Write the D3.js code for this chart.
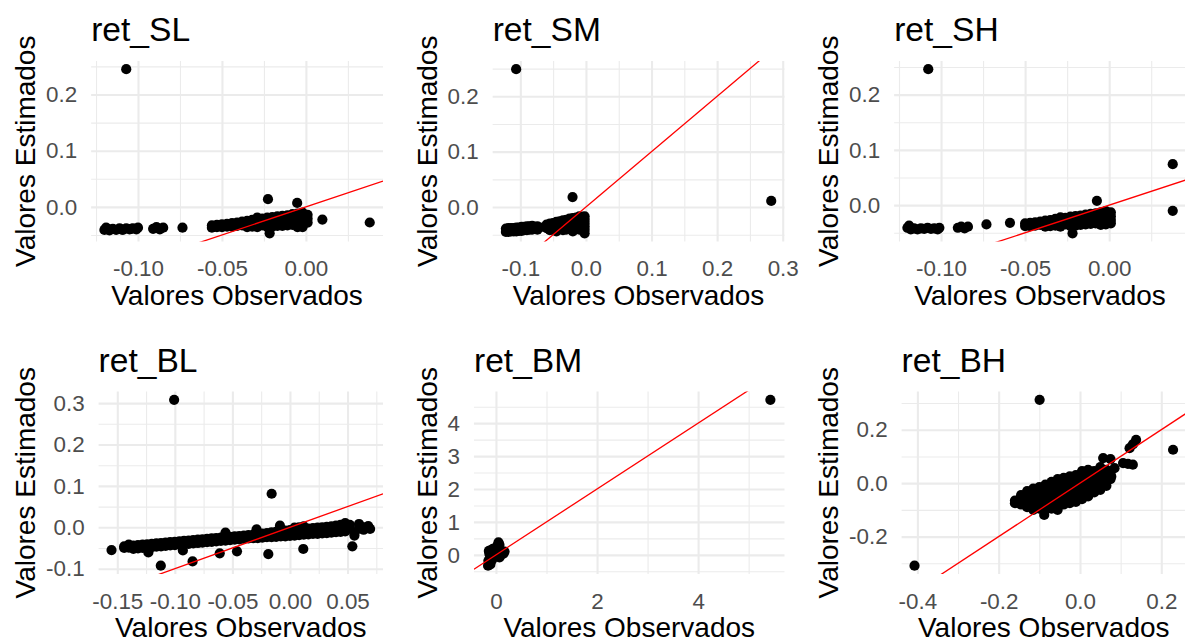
<!DOCTYPE html>
<html>
<head>
<meta charset="utf-8">
<script src="https://cdn.jsdelivr.net/npm/d3@7"></script>
<style>
  body { margin: 0; background: #ffffff; }
  svg { display: block; }
</style>
</head>
<body>
<svg id="chart" width="1185" height="643"></svg>
<script>
// ---- Panel titles ----
const titles = ["ret_SL", "ret_SM", "ret_SH", "ret_BL", "ret_BM", "ret_BH"];
const xTitle = "Valores Observados";
const yTitle = "Valores Estimados";

// ---- Observed vs. estimated returns, one array per portfolio ([observado, estimado]) ----
const pointsSL = [
  [-0.107, 0.245],
  [-0.120, -0.041], [-0.119, -0.037], [-0.118, -0.039], [-0.117, -0.042], [-0.115, -0.039], [-0.113, -0.041],
  [-0.111, -0.038], [-0.110, -0.040], [-0.109, -0.041], [-0.107, -0.038], [-0.105, -0.040], [-0.104, -0.039],
  [-0.103, -0.038], [-0.101, -0.040], [-0.100, -0.037],
  [-0.091, -0.039], [-0.089, -0.036], [-0.088, -0.038], [-0.087, -0.040], [-0.085, -0.037],
  [-0.0735, -0.037],
  [-0.056, -0.033], [-0.056, -0.037], [-0.053, -0.032], [-0.053, -0.036], [-0.050, -0.031], [-0.050, -0.036],
  [-0.047, -0.030], [-0.047, -0.035], [-0.044, -0.029], [-0.044, -0.035], [-0.041, -0.028], [-0.041, -0.034],
  [-0.038, -0.026], [-0.038, -0.033], [-0.035, -0.025], [-0.035, -0.031], [-0.035, -0.036],
  [-0.032, -0.023], [-0.032, -0.029], [-0.032, -0.035],
  [-0.029, -0.019], [-0.029, -0.025], [-0.029, -0.031], [-0.029, -0.036],
  [-0.026, -0.021], [-0.026, -0.027], [-0.026, -0.033],
  [-0.023, -0.019], [-0.023, -0.025], [-0.023, -0.031], [-0.023, -0.036],
  [-0.020, -0.018], [-0.020, -0.024], [-0.020, -0.030], [-0.020, -0.035],
  [-0.017, -0.017], [-0.017, -0.023], [-0.017, -0.029], [-0.017, -0.034],
  [-0.014, -0.016], [-0.014, -0.022], [-0.014, -0.028], [-0.014, -0.034],
  [-0.011, -0.015], [-0.011, -0.021], [-0.011, -0.027], [-0.011, -0.033],
  [-0.008, -0.013], [-0.008, -0.020], [-0.008, -0.026], [-0.008, -0.032],
  [-0.005, -0.012], [-0.005, -0.018], [-0.005, -0.025], [-0.005, -0.031], [-0.005, -0.036],
  [-0.002, -0.010], [-0.002, -0.016], [-0.002, -0.023], [-0.002, -0.030], [-0.002, -0.036],
  [0.001, -0.014], [0.001, -0.021], [0.001, -0.028],
  [-0.0226, 0.0137], [-0.0052, 0.0071], [-0.0216, -0.047], [0.0098, -0.0225], [0.038, -0.0278]
];

const pointsSM = [
  [-0.1064, 0.249], [0.2825, 0.011], [-0.0204, 0.018],
  [-0.122, -0.039], [-0.122, -0.045], [-0.118, -0.038], [-0.118, -0.045], [-0.114, -0.038], [-0.114, -0.044],
  [-0.110, -0.038], [-0.110, -0.044], [-0.106, -0.037], [-0.106, -0.044], [-0.102, -0.037], [-0.102, -0.043],
  [-0.098, -0.036], [-0.098, -0.043], [-0.094, -0.036], [-0.094, -0.042], [-0.090, -0.035], [-0.090, -0.042],
  [-0.086, -0.035], [-0.086, -0.041], [-0.082, -0.034], [-0.082, -0.041], [-0.078, -0.036], [-0.074, -0.035],
  [-0.074, -0.041], [-0.070, -0.037],
  [-0.060, -0.032], [-0.060, -0.038],
  [-0.055, -0.030], [-0.055, -0.036], [-0.055, -0.042],
  [-0.050, -0.029], [-0.050, -0.035], [-0.050, -0.041],
  [-0.045, -0.027], [-0.045, -0.033], [-0.045, -0.039], [-0.045, -0.044],
  [-0.040, -0.026], [-0.040, -0.032], [-0.040, -0.038],
  [-0.035, -0.024], [-0.035, -0.030], [-0.035, -0.036], [-0.035, -0.042],
  [-0.030, -0.023], [-0.030, -0.029], [-0.030, -0.035], [-0.030, -0.041],
  [-0.025, -0.021], [-0.025, -0.027], [-0.025, -0.033], [-0.025, -0.039],
  [-0.020, -0.020], [-0.020, -0.026], [-0.020, -0.032], [-0.020, -0.038], [-0.020, -0.044],
  [-0.015, -0.019], [-0.015, -0.025], [-0.015, -0.031], [-0.015, -0.037],
  [-0.010, -0.017], [-0.010, -0.023], [-0.010, -0.029], [-0.010, -0.035], [-0.010, -0.041],
  [-0.005, -0.018], [-0.005, -0.024], [-0.005, -0.030], [-0.005, -0.036], [-0.005, -0.042],
  [-0.002, -0.017], [-0.002, -0.023], [-0.002, -0.029], [-0.002, -0.035], [-0.002, -0.041], [-0.002, -0.0475]
];

const pointsSH = [
  [-0.1076, 0.246],
  [-0.120, -0.041], [-0.119, -0.037], [-0.118, -0.044], [-0.116, -0.042], [-0.114, -0.044], [-0.112, -0.042],
  [-0.110, -0.043], [-0.108, -0.041], [-0.106, -0.043], [-0.104, -0.042], [-0.102, -0.044], [-0.101, -0.041],
  [-0.090, -0.041], [-0.088, -0.039], [-0.086, -0.042], [-0.084, -0.039],
  [-0.073, -0.035], [-0.059, -0.032],
  [-0.050, -0.033], [-0.050, -0.038], [-0.047, -0.032], [-0.047, -0.038], [-0.044, -0.031], [-0.044, -0.037],
  [-0.041, -0.030], [-0.041, -0.036], [-0.038, -0.028], [-0.038, -0.034], [-0.038, -0.039],
  [-0.035, -0.027], [-0.035, -0.033], [-0.035, -0.038],
  [-0.032, -0.025], [-0.032, -0.031], [-0.032, -0.037],
  [-0.029, -0.022], [-0.029, -0.028], [-0.029, -0.034], [-0.029, -0.039],
  [-0.026, -0.023], [-0.026, -0.029], [-0.026, -0.035],
  [-0.023, -0.021], [-0.023, -0.027], [-0.023, -0.033], [-0.023, -0.038],
  [-0.020, -0.020], [-0.020, -0.026], [-0.020, -0.032], [-0.020, -0.037],
  [-0.017, -0.019], [-0.017, -0.025], [-0.017, -0.031], [-0.017, -0.036],
  [-0.014, -0.017], [-0.014, -0.023], [-0.014, -0.029], [-0.014, -0.035],
  [-0.011, -0.016], [-0.011, -0.022], [-0.011, -0.028], [-0.011, -0.034],
  [-0.008, -0.015], [-0.008, -0.021], [-0.008, -0.027], [-0.008, -0.033],
  [-0.005, -0.013], [-0.005, -0.019], [-0.005, -0.025], [-0.005, -0.031], [-0.005, -0.036],
  [-0.002, -0.011], [-0.002, -0.017], [-0.002, -0.023], [-0.002, -0.029], [-0.002, -0.035],
  [0.001, -0.013], [0.001, -0.020], [0.001, -0.027], [0.001, -0.033],
  [-0.0073, 0.0078], [-0.0218, -0.051], [0.0378, -0.0103], [0.0378, 0.0741]
];

const pointsBL = [
  [-0.1006, 0.308],
  [-0.155, -0.055], [-0.1122, -0.0928], [-0.0846, -0.0824], [-0.0159, 0.081], [-0.0188, -0.0646],
  [0.0116, -0.0524], [0.0542, -0.046], [-0.123, -0.0606], [-0.093, -0.056], [-0.061, -0.063],
  [-0.046, -0.058], [-0.056, -0.013], [-0.029, -0.005], [-0.0087, 0.004],
  [-0.144, -0.050], [-0.144, -0.046],
  [-0.140, -0.049], [-0.140, -0.045], [-0.140, -0.042],
  [-0.136, -0.048], [-0.136, -0.044], [-0.136, -0.052],
  [-0.132, -0.047], [-0.132, -0.043], [-0.132, -0.051],
  [-0.128, -0.046], [-0.128, -0.042], [-0.128, -0.050],
  [-0.124, -0.045], [-0.124, -0.041], [-0.124, -0.049],
  [-0.120, -0.044], [-0.120, -0.040], [-0.120, -0.048],
  [-0.116, -0.043], [-0.116, -0.039], [-0.116, -0.047],
  [-0.112, -0.042], [-0.112, -0.038], [-0.112, -0.046],
  [-0.108, -0.041], [-0.108, -0.037], [-0.108, -0.045],
  [-0.104, -0.040], [-0.104, -0.036], [-0.104, -0.044],
  [-0.100, -0.039], [-0.100, -0.035], [-0.100, -0.043],
  [-0.096, -0.038], [-0.096, -0.034], [-0.096, -0.042],
  [-0.092, -0.037], [-0.092, -0.033], [-0.092, -0.041],
  [-0.088, -0.036], [-0.088, -0.032], [-0.088, -0.040],
  [-0.084, -0.035], [-0.084, -0.031], [-0.084, -0.039],
  [-0.080, -0.034], [-0.080, -0.030], [-0.080, -0.038],
  [-0.076, -0.033], [-0.076, -0.029], [-0.076, -0.037],
  [-0.072, -0.032], [-0.072, -0.028], [-0.072, -0.036],
  [-0.068, -0.031], [-0.068, -0.027], [-0.068, -0.035],
  [-0.064, -0.030], [-0.064, -0.026], [-0.064, -0.034],
  [-0.060, -0.029], [-0.060, -0.025], [-0.060, -0.033],
  [-0.056, -0.028], [-0.056, -0.024], [-0.056, -0.032],
  [-0.052, -0.027], [-0.052, -0.023], [-0.052, -0.031],
  [-0.048, -0.026], [-0.048, -0.022], [-0.048, -0.030],
  [-0.044, -0.025], [-0.044, -0.021], [-0.044, -0.029],
  [-0.040, -0.024], [-0.040, -0.020], [-0.040, -0.028],
  [-0.036, -0.023], [-0.036, -0.019], [-0.036, -0.027],
  [-0.032, -0.022], [-0.032, -0.018], [-0.032, -0.026],
  [-0.028, -0.021], [-0.028, -0.016], [-0.028, -0.026],
  [-0.024, -0.020], [-0.024, -0.015], [-0.024, -0.025],
  [-0.020, -0.019], [-0.020, -0.014], [-0.020, -0.024],
  [-0.016, -0.018], [-0.016, -0.012], [-0.016, -0.024],
  [-0.012, -0.017], [-0.012, -0.011], [-0.012, -0.023],
  [-0.008, -0.016], [-0.008, -0.010], [-0.008, -0.022],
  [-0.004, -0.015], [-0.004, -0.008], [-0.004, -0.022],
  [0.000, -0.014], [0.000, -0.007], [0.000, -0.021],
  [0.004, -0.013], [0.004, -0.006], [0.004, -0.020], [0.004, -0.001],
  [0.008, -0.012], [0.008, -0.005], [0.008, -0.019], [0.008, 0.000],
  [0.012, -0.011], [0.012, -0.004], [0.012, -0.018], [0.012, 0.002],
  [0.016, -0.010], [0.016, -0.003], [0.016, -0.017],
  [0.020, -0.009], [0.020, -0.002], [0.020, -0.016],
  [0.024, -0.008], [0.024, -0.001], [0.024, -0.016],
  [0.028, -0.007], [0.028, 0.000], [0.028, -0.015],
  [0.032, -0.006], [0.032, 0.001], [0.032, -0.014],
  [0.036, -0.005], [0.036, 0.002], [0.036, -0.013],
  [0.040, -0.004], [0.040, 0.004], [0.040, -0.012],
  [0.044, -0.003], [0.044, 0.006], [0.044, -0.011],
  [0.048, -0.002], [0.048, 0.010], [0.048, -0.010],
  [0.052, -0.001], [0.052, 0.006],
  [0.056, -0.014], [0.056, -0.020],
  [0.060, -0.003], [0.060, 0.008],
  [0.064, 0.000], [0.064, -0.006],
  [0.068, 0.003], [0.0696, -0.004]
];

const pointsBM = [
  [5.43, 4.71],
  [-0.156, -0.33], [-0.14, -0.26], [-0.15, -0.18], [-0.12, -0.12], [-0.11, -0.22], [-0.10, -0.04],
  [-0.13, 0.03], [-0.14, 0.12], [-0.10, 0.14], [-0.07, 0.05], [-0.05, -0.08], [-0.06, 0.18],
  [-0.03, 0.02], [-0.02, 0.20], [0.00, -0.05], [0.02, 0.10], [0.03, 0.28], [0.05, 0.38],
  [0.07, 0.30], [0.05, 0.05], [0.08, 0.12], [0.10, 0.00], [0.12, 0.08], [0.15, 0.04],
  [0.17, 0.10], [0.07, -0.08], [-0.08, -0.16], [-0.11, -0.29]
];

const pointsBH = [
  [-0.407, -0.309], [-0.0993, 0.312], [0.229, 0.125],
  [-0.160, -0.065], [-0.160, -0.075],
  [-0.145, -0.045], [-0.145, -0.065], [-0.145, -0.080],
  [-0.130, -0.030], [-0.130, -0.050], [-0.130, -0.070], [-0.130, -0.090],
  [-0.115, -0.020], [-0.115, -0.040], [-0.115, -0.060], [-0.115, -0.080], [-0.115, -0.100],
  [-0.100, -0.015], [-0.100, -0.035], [-0.100, -0.055], [-0.100, -0.075], [-0.100, -0.095],
  [-0.088, -0.119],
  [-0.085, -0.005], [-0.085, -0.025], [-0.085, -0.045], [-0.085, -0.065], [-0.085, -0.085], [-0.085, -0.100],
  [-0.070, 0.005], [-0.070, -0.015], [-0.070, -0.035], [-0.070, -0.055], [-0.070, -0.075], [-0.070, -0.095],
  [-0.055, 0.015], [-0.055, -0.005], [-0.055, -0.025], [-0.055, -0.045], [-0.055, -0.065], [-0.055, -0.085], [-0.055, -0.100],
  [-0.040, 0.020], [-0.040, 0.000], [-0.040, -0.020], [-0.040, -0.040], [-0.040, -0.060], [-0.040, -0.080],
  [-0.025, 0.025], [-0.025, 0.005], [-0.025, -0.015], [-0.025, -0.035], [-0.025, -0.055], [-0.025, -0.075],
  [-0.010, 0.030], [-0.010, 0.010], [-0.010, -0.010], [-0.010, -0.030], [-0.010, -0.050], [-0.010, -0.070],
  [0.005, 0.045], [0.005, 0.020], [0.005, 0.000], [0.005, -0.020], [0.005, -0.040], [0.005, -0.060],
  [0.020, 0.050], [0.020, 0.030], [0.020, 0.010], [0.020, -0.010], [0.020, -0.030], [0.020, -0.050],
  [0.035, 0.045], [0.035, 0.025], [0.035, 0.005], [0.035, -0.015], [0.035, -0.035],
  [0.050, 0.060], [0.050, 0.040], [0.050, 0.020], [0.050, 0.000], [0.050, -0.025],
  [0.065, 0.050], [0.065, 0.030], [0.065, 0.010], [0.065, -0.010],
  [0.075, 0.090], [0.075, 0.040], [0.075, 0.015],
  [0.057, 0.094], [0.085, 0.056], [0.077, 0.025], [0.106, 0.075], [0.130, 0.069], [0.118, 0.072],
  [0.122, 0.131], [0.138, 0.162], [0.130, 0.145]
];

// ---- Axis breaks and their labels ----
const xBreaksSL = [-0.10, -0.05, 0.00], xLabelsSL = ["-0.10", "-0.05", "0.00"];
const yBreaksSL = [0.0, 0.1, 0.2],      yLabelsSL = ["0.0", "0.1", "0.2"];
const xBreaksSM = [-0.1, 0.0, 0.1, 0.2, 0.3], xLabelsSM = ["-0.1", "0.0", "0.1", "0.2", "0.3"];
const yBreaksSM = [0.0, 0.1, 0.2],      yLabelsSM = ["0.0", "0.1", "0.2"];
const xBreaksSH = [-0.10, -0.05, 0.00], xLabelsSH = ["-0.10", "-0.05", "0.00"];
const yBreaksSH = [0.0, 0.1, 0.2],      yLabelsSH = ["0.0", "0.1", "0.2"];
const xBreaksBL = [-0.15, -0.10, -0.05, 0.00, 0.05], xLabelsBL = ["-0.15", "-0.10", "-0.05", "0.00", "0.05"];
const yBreaksBL = [-0.1, 0.0, 0.1, 0.2, 0.3], yLabelsBL = ["-0.1", "0.0", "0.1", "0.2", "0.3"];
const xBreaksBM = [0, 2, 4],            xLabelsBM = ["0", "2", "4"];
const yBreaksBM = [0, 1, 2, 3, 4],      yLabelsBM = ["0", "1", "2", "3", "4"];
const xBreaksBH = [-0.4, -0.2, 0.0, 0.2], xLabelsBH = ["-0.4", "-0.2", "0.0", "0.2"];
const yBreaksBH = [-0.2, 0.0, 0.2],     yLabelsBH = ["-0.2", "0.0", "0.2"];

// ---- Layout (3 x 2 grid) ----
const cellX = [0, 401.5, 803];
const rowTop = [61, 391.5];
const rowBottom = [241.5, 574];
const FONT = "'Liberation Sans', Arial, Helvetica, sans-serif";
const GRID = "#EBEBEB";

const panels = [
  { title: titles[0], pts: pointsSL, xb: xBreaksSL, xl: xLabelsSL, yb: yBreaksSL, yl: yLabelsSL, col: 0, row: 0 },
  { title: titles[1], pts: pointsSM, xb: xBreaksSM, xl: xLabelsSM, yb: yBreaksSM, yl: yLabelsSM, col: 1, row: 0 },
  { title: titles[2], pts: pointsSH, xb: xBreaksSH, xl: xLabelsSH, yb: yBreaksSH, yl: yLabelsSH, col: 2, row: 0 },
  { title: titles[3], pts: pointsBL, xb: xBreaksBL, xl: xLabelsBL, yb: yBreaksBL, yl: yLabelsBL, col: 0, row: 1 },
  { title: titles[4], pts: pointsBM, xb: xBreaksBM, xl: xLabelsBM, yb: yBreaksBM, yl: yLabelsBM, col: 1, row: 1 },
  { title: titles[5], pts: pointsBH, xb: xBreaksBH, xl: xLabelsBH, yb: yBreaksBH, yl: yLabelsBH, col: 2, row: 1 }
];

const svg = d3.select("#chart");

// data range widened by 5% on each side
function expanded(values) {
  const [lo, hi] = d3.extent(values);
  const pad = (hi - lo) * 0.05;
  return [lo - pad, hi + pad];
}

// midpoints between major breaks, kept inside the domain
function minorBreaks(br, domain) {
  const step = br[1] - br[0];
  const out = [];
  for (let v = br[0] - step / 2; v <= br[br.length - 1] + step / 2 + 1e-9; v += step) {
    if (v >= domain[0] && v <= domain[1]) out.push(+v.toFixed(6));
  }
  return out;
}

panels.forEach((p, i) => {
  const cx = cellX[p.col];
  const top = rowTop[p.row], bottom = rowBottom[p.row];
  const g = svg.append("g").attr("font-family", FONT);

  // widest y tick label sets the panel's left edge
  const probe = g.append("g").attr("font-size", 22.4);
  let maxW = 0;
  p.yl.forEach(t => {
    const n = probe.append("text").text(t);
    maxW = Math.max(maxW, n.node().getComputedTextLength());
  });
  probe.remove();

  const left = cx + 60 + maxW;
  const right = cx + 383;
  const xDom = expanded(p.pts.map(d => d[0]));
  const yDom = expanded(p.pts.map(d => d[1]));
  const x = d3.scaleLinear().domain(xDom).range([left, right]);
  const y = d3.scaleLinear().domain(yDom).range([bottom, top]);

  // grid: minor then major
  const gridLayer = (axis, transform, width) => {
    const a = g.append("g").attr("transform", transform).call(axis);
    a.select(".domain").remove();
    a.selectAll("text").remove();
    a.selectAll("line").attr("stroke", GRID).attr("stroke-width", width);
  };
  const h = bottom - top, w = right - left;
  gridLayer(d3.axisBottom(x).tickValues(minorBreaks(p.xb, xDom)).tickSize(-h).tickFormat(""), `translate(0,${bottom})`, 1.1);
  gridLayer(d3.axisLeft(y).tickValues(minorBreaks(p.yb, yDom)).tickSize(-w).tickFormat(""), `translate(${left},0)`, 1.1);
  gridLayer(d3.axisBottom(x).tickValues(p.xb).tickSize(-h).tickFormat(""), `translate(0,${bottom})`, 2.1);
  gridLayer(d3.axisLeft(y).tickValues(p.yb).tickSize(-w).tickFormat(""), `translate(${left},0)`, 2.1);

  // tick labels
  const xAx = g.append("g").attr("transform", `translate(0,${bottom})`)
    .call(d3.axisBottom(x).tickValues(p.xb).tickFormat((d, k) => p.xl[k]).tickSize(0).tickPadding(19));
  const yAx = g.append("g").attr("transform", `translate(${left},0)`)
    .call(d3.axisLeft(y).tickValues(p.yb).tickFormat((d, k) => p.yl[k]).tickSize(0).tickPadding(14));
  [xAx, yAx].forEach(a => {
    a.select(".domain").remove();
    a.selectAll("text").attr("font-family", FONT).attr("font-size", 22.4).attr("fill", "#4D4D4D");
  });

  // clip region for the 45-degree reference line
  const clipId = "clip" + i;
  g.append("clipPath").attr("id", clipId)
    .append("rect").attr("x", left).attr("y", top).attr("width", w).attr("height", h);

  // points
  g.append("g").selectAll("circle").data(p.pts).join("circle")
    .attr("cx", d => x(d[0])).attr("cy", d => y(d[1])).attr("r", 5.1).attr("fill", "#000");

  // y = x line
  g.append("line").attr("clip-path", `url(#${clipId})`)
    .attr("x1", x(xDom[0])).attr("y1", y(xDom[0]))
    .attr("x2", x(xDom[1])).attr("y2", y(xDom[1]))
    .attr("stroke", "#FF0000").attr("stroke-width", 1.3);

  // panel title
  g.append("text").attr("x", left).attr("y", top - 20)
    .attr("font-size", 33.6).attr("fill", "#000").text(p.title);

  // axis titles
  g.append("text").attr("x", (left + right) / 2).attr("y", bottom + 63)
    .attr("text-anchor", "middle").attr("font-size", 28).attr("fill", "#000").text(xTitle);
  g.append("text")
    .attr("transform", `translate(${cx + 35},${(top + bottom) / 2}) rotate(-90)`)
    .attr("text-anchor", "middle").attr("font-size", 28).attr("fill", "#000").text(yTitle);
});
</script>
</body>
</html>
